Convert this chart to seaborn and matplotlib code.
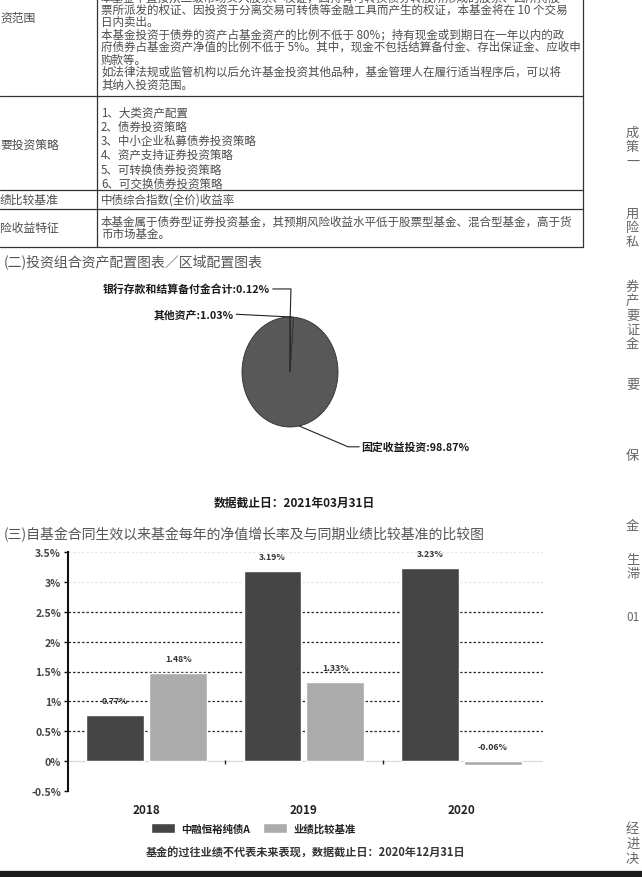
import matplotlib
matplotlib.use("Agg")
import matplotlib.pyplot as plt
import seaborn as sns
import pandas as pd
import numpy as np

# ---- data ----
years = ["2018", "2019", "2020"]
fund_name = "中融恒裕纯债A"
bench_name = "业绩比较基准"
fund_growth = [0.77, 3.19, 3.23]
bench_growth = [1.48, 1.33, -0.06]
y_ticks = [-0.5, 0, 0.5, 1, 1.5, 2, 2.5, 3, 3.5]
y_tick_labels = ["-0.5%", "0%", "0.5%", "1%", "1.5%", "2%", "2.5%", "3%", "3.5%"]

pie_labels = ["固定收益投资", "其他资产", "银行存款和结算备付金合计"]
pie_values = [98.87, 1.03, 0.12]
pie_date = "数据截止日：2021年03月31日"

# left column is cut by the page edge, only these parts show
row_labels = ["资范围", "要投资策略", "绩比较基准", "险收益特征"]
scope_lines = [
    "本基金不直接从二级市场买入股票、权证，因持有可转换债券转股所形成的股票、因所持股",
    "票所派发的权证、因投资于分离交易可转债等金融工具而产生的权证，本基金将在 10 个交易",
    "日内卖出。",
    "本基金投资于债券的资产占基金资产的比例不低于 80%；持有现金或到期日在一年以内的政",
    "府债券占基金资产净值的比例不低于 5%。其中，现金不包括结算备付金、存出保证金、应收申",
    "购款等。",
    "如法律法规或监管机构以后允许基金投资其他品种，基金管理人在履行适当程序后，可以将",
    "其纳入投资范围。",
]
strategy_lines = [
    "1、大类资产配置",
    "2、债券投资策略",
    "3、中小企业私募债券投资策略",
    "4、资产支持证券投资策略",
    "5、可转换债券投资策略",
    "6、可交换债券投资策略",
]
benchmark_text = "中债综合指数(全价)收益率"
risk_lines = [
    "本基金属于债券型证券投资基金，其预期风险收益水平低于股票型基金、混合型基金，高于货",
    "币市场基金。",
]
pie_title = "(二)投资组合资产配置图表／区域配置图表"
bar_title = "(三)自基金合同生效以来基金每年的净值增长率及与同期业绩比较基准的比较图"
bar_note = "基金的过往业绩不代表未来表现，数据截止日：2020年12月31日"
side_text = [("成策一", 133), ("用险私", 214), ("券产要证金", 287), ("要", 385),
             ("保", 457), ("金", 527), ("生滞", 560), ("经进决", 830)]

sns.set_theme(style="white")
plt.rcParams['font.family'] = ['Noto Sans CJK SC', 'DejaVu Sans']
plt.rcParams['axes.unicode_minus'] = False

W, H = 642, 878
fig = plt.figure(figsize=(W / 100, H / 100), dpi=100)
fig.patch.set_facecolor("white")


def rect(x, y, w, h):
    return [x / W, 1 - (y + h) / H, w / W, h / H]


# page layer in pixel coordinates
pg = fig.add_axes([0, 0, 1, 1])
pg.set_xlim(0, W)
pg.set_ylim(H, 0)
pg.axis("off")

txt = "#4d4d4d"
fs = 8.3
# table
for yy in [97, 191, 210, 248]:
    pg.plot([0, 583], [yy, yy], color="#333333", lw=0.9)
pg.plot([97, 97], [0, 248], color="#333333", lw=0.9)
pg.plot([583, 583], [0, 248], color="#333333", lw=0.9)

for i, line in enumerate(scope_lines):
    pg.text(101, -2 + 12.4 * i, line, fontsize=fs, color=txt, va="center")
for i, line in enumerate(strategy_lines):
    pg.text(101, 113 + 14.2 * i, line, fontsize=fs, color=txt, va="center")
pg.text(101, 200, benchmark_text, fontsize=fs, color=txt, va="center")
for i, line in enumerate(risk_lines):
    pg.text(101, 222 + 12.6 * i, line, fontsize=fs, color=txt, va="center")

for lab, yy in zip(row_labels, [18, 145, 200, 229]):
    pg.text(0, yy, lab, fontsize=8.5, color=txt, va="center")

pg.text(4, 262, pie_title, fontsize=10, color="#555555", va="center")
pg.text(294, 503, pie_date, fontsize=8.5, color="#1a1a1a", va="center", ha="center", weight="bold")
pg.text(4, 535, bar_title, fontsize=10, color="#555555", va="center")
pg.text(306, 853, bar_note, fontsize=8, color="#333333", va="center", ha="center", weight="bold")

for chars, y0 in side_text:
    for k, ch in enumerate(chars):
        pg.text(626, y0 + 14.5 * k, ch, fontsize=9.5, color="#666666", va="center")
pg.text(626, 618, "01", fontsize=8.5, color="#666666", va="center")

pg.plot([0, W], [875.5, 875.5], color="#1c1c1c", lw=4.5, solid_capstyle="butt")

# ---- pie ----
axp = fig.add_axes(rect(242, 318, 96, 110))
wedges, _ = axp.pie(pie_values, colors=["#585858"] * 3, startangle=90, counterclock=True,
                    wedgeprops=dict(edgecolor="#2e2e2e", linewidth=0.6))
axp.set_aspect("auto")
axp.set_xlim(-1, 1)
axp.set_ylim(-1, 1)

mid = [np.deg2rad((w.theta1 + w.theta2) / 2) for w in wedges]
lc = "#222222"
# 银行存款
a = (np.cos(mid[2]), np.sin(mid[2]))
axp.plot([-0.36, 0.02, a[0]], [1.51, 1.51, a[1]], color=lc, lw=0.8, clip_on=False)
axp.text(-0.42, 1.51, f"{pie_labels[2]}:{pie_values[2]:.2f}%", ha="right", va="center",
         fontsize=7.8, weight="bold", color="#1a1a1a")
# 其他资产
a = (np.cos(mid[1]), np.sin(mid[1]))
axp.plot([-1.12, a[0]], [1.05, a[1]], color=lc, lw=0.8, clip_on=False)
axp.text(-1.17, 1.05, f"{pie_labels[1]}:{pie_values[1]:.2f}%", ha="right", va="center",
         fontsize=7.8, weight="bold", color="#1a1a1a")
# 固定收益
ang = np.deg2rad(-79)
axp.plot([np.cos(ang), 1.21, 1.44], [np.sin(ang), -1.36, -1.36], color=lc, lw=0.8, clip_on=False)
axp.text(1.49, -1.36, f"{pie_labels[0]}:{pie_values[0]:.2f}%", ha="left", va="center",
         fontsize=7.8, weight="bold", color="#1a1a1a")

# ---- bar chart ----
df = pd.DataFrame({
    "年份": years * 2,
    "系列": [fund_name] * len(years) + [bench_name] * len(years),
    "增长率": fund_growth + bench_growth,
})
axb = fig.add_axes(rect(68, 553, 475, 239))
sns.barplot(data=df, x="年份", y="增长率", hue="系列", palette=["#454545", "#ababab"],
            width=0.8, gap=0.08, saturation=1, ax=axb, zorder=3)
axb.set_xlim(-0.5, 2.52)
axb.set_ylim(-0.5, 3.5)
axb.set_xlabel("")
axb.set_ylabel("")
axb.set_yticks(y_ticks)
axb.set_yticklabels(y_tick_labels)
axb.tick_params(axis="y", length=3, width=1, color="#111111", labelsize=7.5,
                labelcolor="#444444", pad=2, left=True)
axb.tick_params(axis="x", length=0, labelsize=8.5, labelcolor="#222222", pad=9)
for lab in axb.get_xticklabels() + axb.get_yticklabels():
    lab.set_fontweight("bold")
for s in ["top", "right", "bottom"]:
    axb.spines[s].set_visible(False)
axb.spines["left"].set_color("#111111")
axb.spines["left"].set_linewidth(1.5)

for t in y_ticks:
    if t == 0:
        axb.axhline(t, color="#d9d9d9", lw=0.9, zorder=1)
    elif 0 < t <= 2.5:
        axb.axhline(t, color="#2b2b2b", lw=0.9, ls=(0, (2, 1.6)), zorder=1)
    else:
        axb.axhline(t, color="#e8e8e8", lw=0.9, ls=(0, (2, 1.6)), zorder=1)
axb.vlines(np.arange(len(years) - 1) + 0.5, -0.05, 0.02, color="#222222", lw=1, zorder=2)

for cont, vals in zip(axb.containers, [fund_growth, bench_growth]):
    for p, v in zip(cont.patches, vals):
        axb.annotate(f"{v:.2f}%", (p.get_x() + p.get_width() / 2, max(v, 0)),
                     xytext=(0, 7), textcoords="offset points", ha="center", va="bottom",
                     fontsize=6.3, color="#333333", weight="bold")

sns.move_legend(axb, "upper center", bbox_to_anchor=(0.39, -0.095), ncol=2, frameon=False,
                title=None, fontsize=7.5, handlelength=2.3, handleheight=1.1,
                columnspacing=1.3, handletextpad=0.6)
for t in axb.get_legend().get_texts():
    t.set_color("#222222")
    t.set_fontweight("bold")

fig.savefig("out.png", dpi=100)
